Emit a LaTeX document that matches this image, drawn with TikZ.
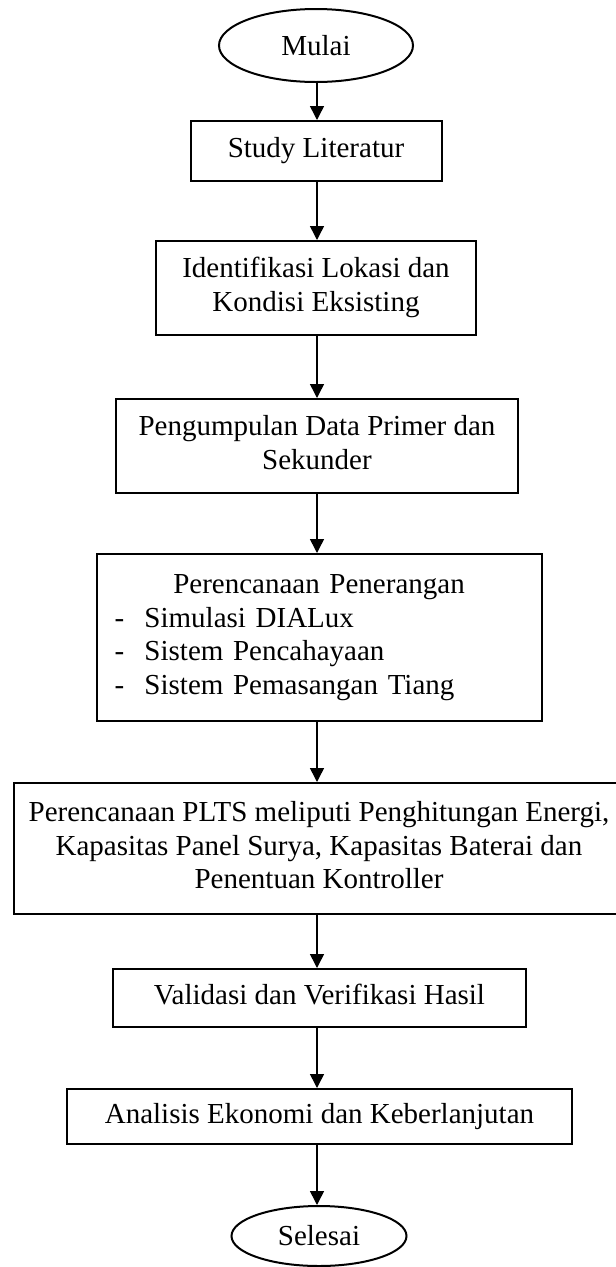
\documentclass[tikz,border=0pt]{standalone}
\usepackage{fontspec}
\setmainfont{Liberation Serif}
\usetikzlibrary{arrows.meta,shapes.geometric}

\begin{document}
\begin{tikzpicture}[x=1pt,y=-1pt,
  every node/.style={font=\fontsize{29}{33.5}\selectfont, inner sep=0pt},
  procbox/.style={draw, line width=2pt, rectangle, align=center},
  terminal/.style={draw, line width=2pt, ellipse, align=center},
  flow/.style={line width=1.5pt, -{Triangle[length=14pt,width=14pt]}},
]
\useasboundingbox (0,0) rectangle (616,1267);
\begin{scope}
\clip (0,0) rectangle (616,1267);

% start and end terminals
\node[terminal, minimum width=194pt, minimum height=73pt] (mulai) at (316,45.5) {Mulai};
\node[terminal, minimum width=175pt, minimum height=60pt] (selesai) at (319,1236) {Selesai};

% process steps
\node[procbox, minimum width=251pt, minimum height=60pt] (study) at (316,151)
  {Study Literatur\strut};
\node[procbox, minimum width=320pt, minimum height=94pt] (ident) at (316,288)
  {Identifikasi Lokasi dan\strut\\Kondisi Eksisting\strut};
\node[procbox, minimum width=402pt, minimum height=94pt] (data) at (317,446)
  {Pengumpulan Data Primer dan\strut\\Sekunder\strut};
\node[procbox, minimum width=445pt, minimum height=167pt, text width=409pt, align=left] (lamp) at (319,637.5)
  {\makebox[409pt]{Perencanaan Penerangan\strut}\\
   \makebox[30pt][l]{-}Simulasi DIALux\strut\\
   \makebox[30pt][l]{-}Sistem Pencahayaan\strut\\
   \makebox[30pt][l]{-}Sistem Pemasangan Tiang\strut};
\node[procbox, minimum width=610pt, minimum height=131pt] (plts) at (319,848.5)
  {Perencanaan PLTS meliputi Penghitungan Energi,\strut\\
   Kapasitas Panel Surya, Kapasitas Baterai dan\strut\\
   Penentuan Kontroller\strut};
\node[procbox, minimum width=413pt, minimum height=58pt] (valid) at (319.5,998)
  {Validasi dan Verifikasi Hasil\strut};
\node[procbox, minimum width=505pt, minimum height=55pt] (eko) at (319.5,1116.5)
  {Analisis Ekonomi dan Keberlanjutan\strut};

% connectors along the common axis
\coordinate (axis) at (317,0);
\draw[flow] (mulai.south -| axis) -- (study.north -| axis);
\draw[flow] (study.south -| axis) -- (ident.north -| axis);
\draw[flow] (ident.south -| axis) -- (data.north -| axis);
\draw[flow] (data.south -| axis) -- (lamp.north -| axis);
\draw[flow] (lamp.south -| axis) -- (plts.north -| axis);
\draw[flow] (plts.south -| axis) -- (valid.north -| axis);
\draw[flow] (valid.south -| axis) -- (eko.north -| axis);
\draw[flow] (eko.south -| axis) -- (selesai.north -| axis);
\end{scope}
\end{tikzpicture}
\end{document}
